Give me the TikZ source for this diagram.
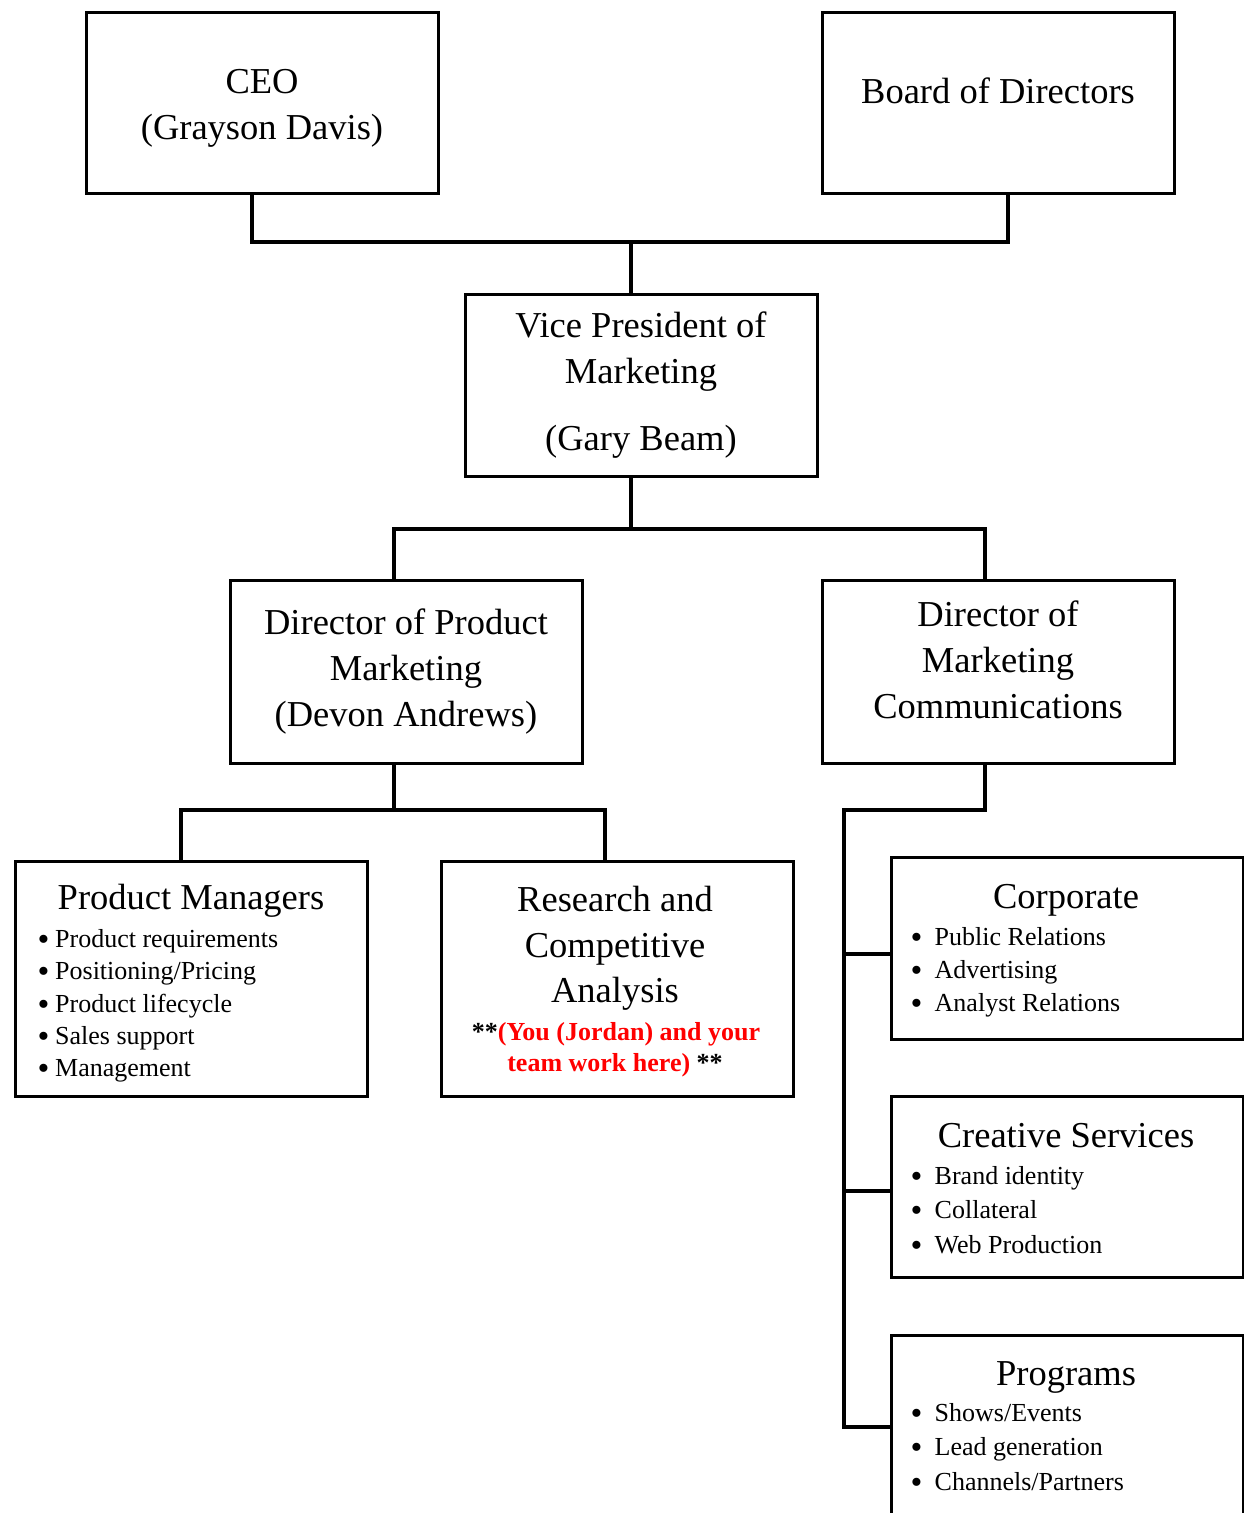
\documentclass[tikz,border=0pt]{standalone}
\usepackage{fontspec}
\setmainfont{Liberation Serif}
\definecolor{redtxt}{RGB}{255,0,0}
\newcommand{\bigbul}{\raisebox{-3pt}{\scalebox{1.3}{\textbullet}}}
\begin{document}
\begin{tikzpicture}[x=1pt,y=-1pt,
  box/.style={draw=black, line width=3pt, rectangle, inner sep=0pt, fill=none},
  conn/.style={draw=black, line width=4pt},
  hd/.style={anchor=base, inner sep=0pt, font=\fontsize{36.5}{44}\selectfont},
  bl/.style={anchor=base west, inner sep=0pt, font=\fontsize{26}{31}\selectfont},
  rd/.style={anchor=base, inner sep=0pt, font=\fontsize{26}{31}\selectfont\bfseries}
]
\useasboundingbox (0,0) rectangle (1243,1513);
\fill[white] (0,0) rectangle (1243,1513);

% boxes
\node[box, minimum width=352, minimum height=181] (ceo) at (262,102.5) {};
\node[box, minimum width=352, minimum height=181] (board) at (998,102.5) {};
\node[box, minimum width=352, minimum height=182] (vp) at (641,385) {};
\node[box, minimum width=352, minimum height=183] (dpm) at (406,671.5) {};
\node[box, minimum width=352, minimum height=183] (dmc) at (998,671.5) {};
\node[box, minimum width=352, minimum height=235] (pm) at (191,978.5) {};
\node[box, minimum width=352, minimum height=235] (rca) at (617,978.5) {};
\node[box, minimum width=352, minimum height=182] (corp) at (1067,948) {};
\node[box, minimum width=352, minimum height=181] (cre) at (1067,1186.5) {};
\node[box, minimum width=352, minimum height=210] (prog) at (1067,1440) {};

% texts
\node[hd] (ceo1) at (262,93) {CEO};
\node[hd] (ceo2) at (262,139) {(Grayson Davis)};
\node[hd] (board1) at (998,103) {Board of Directors};
\node[hd] (vp1) at (641,337) {Vice President of};
\node[hd] (vp2) at (641,383) {Marketing};
\node[hd] (vp3) at (641,450) {(Gary Beam)};
\node[hd] (dpm1) at (406,634) {Director of Product};
\node[hd] (dpm2) at (406,680) {Marketing};
\node[hd] (dpm3) at (406,726) {(Devon Andrews)};
\node[hd] (dmc1) at (998,626) {Director of};
\node[hd] (dmc2) at (998,672) {Marketing};
\node[hd] (dmc3) at (998,718) {Communications};

\node[hd] (pm0) at (191,909) {Product Managers};
\node[bl] (pm1) at (37.5,947) {\makebox[17.5pt][l]{\bigbul}Product requirements};
\node[bl] (pm2) at (37.5,979) {\makebox[17.5pt][l]{\bigbul}Positioning/Pricing};
\node[bl] (pm3) at (37.5,1012) {\makebox[17.5pt][l]{\bigbul}Product lifecycle};
\node[bl] (pm4) at (37.5,1044) {\makebox[17.5pt][l]{\bigbul}Sales support};
\node[bl] (pm5) at (37.5,1076) {\makebox[17.5pt][l]{\bigbul}Management};

\node[hd] (rca1) at (615,911) {Research and};
\node[hd] (rca2) at (615,957) {Competitive};
\node[hd] (rca3) at (615,1002) {Analysis};
\node[rd] (rca4) at (616,1040) {**\textcolor{redtxt}{(You (Jordan) and your}};
\node[rd] (rca5) at (615,1071) {\textcolor{redtxt}{team work here)} **};

\node[hd] (corp0) at (1066,908) {Corporate};
\node[bl] (corp1) at (910.5,945) {\makebox[24pt][l]{\bigbul}Public Relations};
\node[bl] (corp2) at (910.5,978) {\makebox[24pt][l]{\bigbul}Advertising};
\node[bl] (corp3) at (910.5,1011) {\makebox[24pt][l]{\bigbul}Analyst Relations};

\node[hd] (cre0) at (1066,1147) {Creative Services};
\node[bl] (cre1) at (910.5,1184) {\makebox[24pt][l]{\bigbul}Brand identity};
\node[bl] (cre2) at (910.5,1218) {\makebox[24pt][l]{\bigbul}Collateral};
\node[bl] (cre3) at (910.5,1253) {\makebox[24pt][l]{\bigbul}Web Production};

\node[hd] (prog0) at (1066,1385) {Programs};
\node[bl] (prog1) at (910.5,1421) {\makebox[24pt][l]{\bigbul}Shows/Events};
\node[bl] (prog2) at (910.5,1455) {\makebox[24pt][l]{\bigbul}Lead generation};
\node[bl] (prog3) at (910.5,1490) {\makebox[24pt][l]{\bigbul}Channels/Partners};

% connectors
\coordinate (topj) at (631,242);
\coordinate (vpj) at (631,529);
\coordinate (dpmj) at (394,810);
\coordinate (dmcj) at (985,810);
\coordinate (spine) at (844,810);
\coordinate (s1) at (844,954);
\coordinate (s2) at (844,1191);
\coordinate (s3) at (844,1427);

\draw[conn] ([xshift=-10pt]ceo.south) |- (topj) -| ([xshift=10pt]board.south);
\draw[conn] (topj) -- (vp.north -| topj);
\draw[conn] (vp.south -| vpj) -- (vpj);
\draw[conn] ([xshift=-12pt]dpm.north) |- (vpj) -| ([xshift=-13pt]dmc.north);
\draw[conn] (dpm.south -| dpmj) -- (dpmj);
\draw[conn] ([xshift=-10pt]pm.north) |- (dpmj) -| ([xshift=-12pt]rca.north);
\draw[conn] (dmc.south -| dmcj) -- (dmcj) -- (spine) -- (s3) -- (s3 -| prog.west);
\draw[conn] (s1) -- (s1 -| corp.west);
\draw[conn] (s2) -- (s2 -| cre.west);
\end{tikzpicture}
\end{document}
